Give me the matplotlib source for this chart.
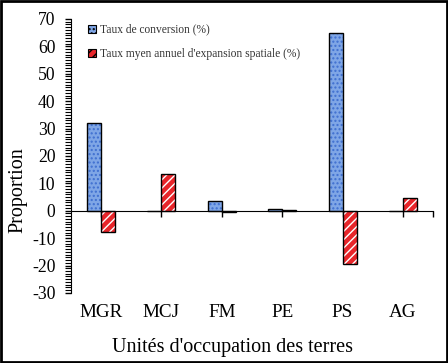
import numpy as np
import matplotlib.pyplot as plt
from matplotlib.patches import Rectangle
from matplotlib.ticker import MultipleLocator

categories = ["MGR", "MCJ", "FM", "PE", "PS", "AG"]
taux_conversion = [32.0, 0.0, 3.7, 0.5, 64.7, 0.0]
taux_expansion = [-7.7, 13.4, -0.5, 0.3, -19.3, 4.8]

plt.rcParams['font.family'] = ['Liberation Serif', 'DejaVu Serif']
plt.rcParams['axes.unicode_minus'] = False

fig = plt.figure(figsize=(4.48, 3.63), dpi=100)
ax = fig.add_axes([0.158, 0.193, 0.809, 0.755])

x = np.arange(len(categories))
w = 0.23

# blue bars, dotted
b1 = ax.bar(x - w / 2, taux_conversion, w, color="#7fa6e6", edgecolor="#3f6fd0",
            hatch="....", linewidth=0, zorder=2)
ax.bar(x - w / 2, taux_conversion, w, fill=False, edgecolor="black", linewidth=1.0, zorder=3)

# red bars, white stripes
b2 = ax.bar(x + w / 2, taux_expansion, w, color="#e8252a", edgecolor="white",
            hatch="////", linewidth=0, zorder=2)
ax.bar(x + w / 2, taux_expansion, w, fill=False, edgecolor="black", linewidth=1.0, zorder=3)

ax.set_xlim(-0.5, 5.5)
ax.set_ylim(-30, 70)

ax.spines['top'].set_visible(False)
ax.spines['right'].set_visible(False)
ax.spines['bottom'].set_position(('data', 0))
ax.spines['bottom'].set_zorder(4)

ax.set_xticks(list(x) + [5.5])
ax.tick_params(axis='x', direction='out', length=4, width=1, labelbottom=False)

sec = ax.secondary_xaxis('bottom')
sec.set_xticks(x)
sec.set_xticklabels(categories, fontsize=13.8)
sec.tick_params(length=0, pad=8)
sec.spines['bottom'].set_visible(False)

ax.yaxis.set_major_locator(MultipleLocator(10))
ax.yaxis.set_minor_locator(MultipleLocator(1))
ax.tick_params(axis='y', which='major', direction='out', length=4, width=1, labelsize=12.7, pad=7)
ax.tick_params(axis='y', which='minor', direction='out', length=4, width=0.8)

ax.set_ylabel("Proportion", fontsize=14.5)
ax.yaxis.set_label_coords(-0.12, 0.375)
fig.text(0.518, 0.044, "Unités d'occupation des terres", fontsize=14.5, ha='center', va='center')

leg = ax.legend([b1, b2], ["Taux de conversion (%)", "Taux myen annuel d'expansion spatiale (%)"],
                loc='upper left', bbox_to_anchor=(0.02, 1.02), frameon=False, fontsize=8.3,
                handlelength=0.7, handleheight=0.7, handletextpad=0.3, labelspacing=1.1)
for t in leg.get_texts():
    t.set_color("#333333")
for h in leg.legend_handles:
    h.set_edgecolor("black")
    h.set_linewidth(0.8)

fig.patches.append(Rectangle((0.002, 0.003), 0.995, 0.994, transform=fig.transFigure,
                             fill=False, edgecolor="black", linewidth=2))

fig.savefig("out.png", dpi=100)
